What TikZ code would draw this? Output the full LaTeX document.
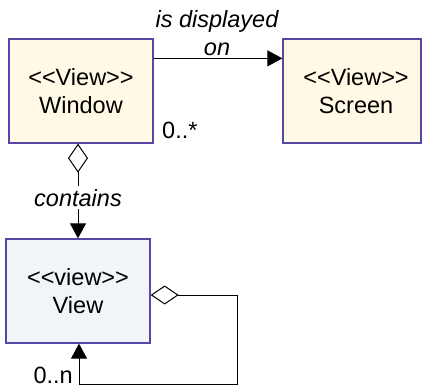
\documentclass[tikz,border=0pt]{standalone}
\usepackage{fontspec}
\setmainfont{Liberation Sans}
\usetikzlibrary{arrows.meta,calc}
\definecolor{creamfill}{RGB}{255,249,229}
\definecolor{viewfill}{RGB}{241,245,248}
\definecolor{boxline}{RGB}{85,72,165}
\newcommand{\lguil}{<\kern0pt<}
\newcommand{\rguil}{>\kern0pt>}
\tikzset{
  txt/.style={font=\fontsize{23.5}{28}\selectfont, inner sep=0pt},
  classbox/.style={txt, draw=boxline, line width=1.3pt, align=center, minimum height=104pt},
  conn/.style={line width=1pt, black},
  tri/.style={-{Triangle[length=15pt,width=16pt]}},
}
\begin{document}
\begin{tikzpicture}[x=1pt,y=-1pt]
\useasboundingbox (0,0) rectangle (422,389);
\node[classbox, fill=creamfill, minimum width=144pt] (win) at (81,91) {\lguil View\rguil\\Window};
\node[classbox, fill=creamfill, minimum width=138pt] (scr) at (352,91) {\hspace*{8pt}\lguil View\rguil\\\hspace*{8pt}Screen};
\node[classbox, fill=viewfill, minimum width=144pt] (view) at (78,291) {\lguil view\rguil\\View};
% association
\draw[conn, tri] ([yshift=-20pt]win.north east) -- ([yshift=-20pt]scr.north west);
\node[txt, align=center, anchor=south, font=\fontsize{23.5}{28}\selectfont\itshape] (lab1) at (217,56) {is displayed\\on};
\node[txt, anchor=base west] (m1) at (162,138) {0..*};
% contains
\draw[conn, {Diamond[open,length=29pt,width=20pt]}-{Triangle[length=15pt,width=16pt]}] (win.south -| view.north) -- (view.north)
  node[txt, pos=0.57, fill=white, inner sep=3pt, font=\fontsize{23.5}{28}\selectfont\itshape] (lab2) {contains};
% self loop
\coordinate (loopc) at (237,384);
\draw[conn, {Diamond[open,length=28pt,width=19pt]}-{Triangle[length=15pt,width=16pt]}] ([yshift=-4pt]view.east) -| (loopc) -| ([xshift=1pt]view.south);
\node[txt, anchor=base east] (m2) at (73,383) {0..n};
\end{tikzpicture}
\end{document}
